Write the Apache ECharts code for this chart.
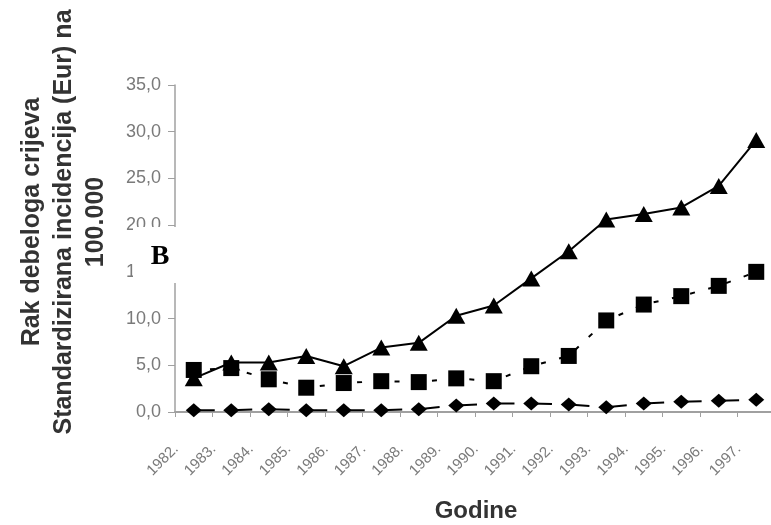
<!DOCTYPE html>
<html><head><meta charset="utf-8">
<script src="https://cdn.jsdelivr.net/npm/echarts@6/dist/echarts.min.js"></script>
<style>html,body{margin:0;padding:0;background:#fff}#c{width:771px;height:525px}</style>
</head><body><div id="c"></div>
<script>
const years = ['1982.','1983.','1984.','1985.','1986.','1987.','1988.','1989.','1990.','1991.','1992.','1993.','1994.','1995.','1996.','1997.'];
const triangleSeries = [3.6, 5.3, 5.3, 6.0, 4.9, 6.9, 7.4, 10.3, 11.4, 14.3, 17.2, 20.6, 21.2, 21.9, 24.2, 29.1];
const squareSeries = [4.5, 4.7, 3.5, 2.6, 3.1, 3.3, 3.2, 3.6, 3.3, 4.9, 6.0, 9.8, 11.5, 12.4, 13.5, 15.0];
const diamondSeries = [0.2, 0.2, 0.3, 0.2, 0.2, 0.2, 0.3, 0.7, 0.9, 0.9, 0.8, 0.5, 0.9, 1.1, 1.2, 1.3];
const yTickValues = [0, 5, 10, 15, 20, 25, 30, 35];
const yTitleLines = ['Rak debeloga crijeva', 'Standardizirana incidencija (Eur) na', '100.000'];
const xTitle = 'Godine';
const panelLetter = 'B';

const chart = echarts.init(document.getElementById('c'));
const FONT = "'Liberation Sans', Arial, sans-serif";
chart.setOption({
  backgroundColor: '#fff',
  animation: false,
  grid: {left: 175, right: -4, top: 85, bottom: 113, containLabel: false, outerBoundsMode: 'none'},
  xAxis: {
    type: 'category',
    data: years,
    boundaryGap: true,
    axisLine: {lineStyle: {color: '#a0a0a0', width: 2}},
    axisTick: {show: true, interval: 0, length: 5, lineStyle: {color: '#a0a0a0', width: 1}},
    axisLabel: {interval: 0, rotate: 45, fontSize: 15, color: '#7a7a7a', fontFamily: FONT, margin: 17, padding: [0, 25, 0, 0], hideOverlap: false},
    splitLine: {show: false}
  },
  yAxis: {
    type: 'value',
    min: yTickValues[0],
    max: yTickValues[yTickValues.length - 1],
    interval: yTickValues[1] - yTickValues[0],
    axisLine: {show: true, lineStyle: {color: '#a0a0a0', width: 1.5}},
    axisTick: {show: true, length: 7, lineStyle: {color: '#a0a0a0', width: 1}},
    axisLabel: {fontSize: 18, color: '#7a7a7a', fontFamily: FONT, margin: 14,
      formatter: v => v.toFixed(1).replace('.', ',')},
    splitLine: {show: false}
  },
  series: [
    {type: 'line', data: triangleSeries, symbol: 'triangle', symbolSize: [18, 16],
      lineStyle: {color: '#000', width: 2}, itemStyle: {color: '#000'}, z: 3},
    {type: 'line', data: squareSeries, symbol: 'rect', symbolSize: 16,
      lineStyle: {color: '#000', width: 2, type: [5, 13.75], dashOffset: 2.5}, itemStyle: {color: '#000'}, z: 4},
    {type: 'line', data: diamondSeries, symbol: 'diamond', symbolSize: [16, 14],
      lineStyle: {color: '#000', width: 2, type: [21, 16.5]}, itemStyle: {color: '#000'}, z: 5}
  ],
  graphic: [
    {type: 'text', x: 64, y: 222, rotation: Math.PI / 2, z: 50,
      style: {text: yTitleLines.join('\n'), font: "bold 25px " + FONT, fill: '#333', align: 'center', verticalAlign: 'middle', lineHeight: 32}},
    {type: 'text', x: 476, y: 511, z: 50,
      style: {text: xTitle, font: "bold 24px " + FONT, fill: '#333', align: 'center', verticalAlign: 'middle'}},
    {type: 'rect', shape: {x: 133, y: 227, width: 47, height: 56}, z: 60, style: {fill: '#fff'}},
    {type: 'text', x: 160, y: 257, z: 61,
      style: {text: panelLetter, font: "bold 28px 'Liberation Serif', 'Times New Roman', serif", fill: '#000', align: 'center', verticalAlign: 'middle'}}
  ]
});
</script>
</body></html>
